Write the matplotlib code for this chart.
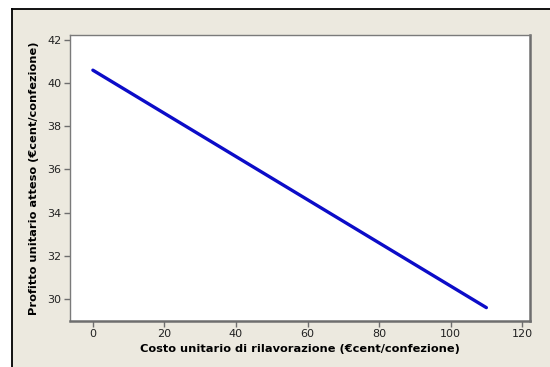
import matplotlib.pyplot as plt
from matplotlib.patches import Rectangle
from matplotlib.lines import Line2D

# Reprocessing cost (€cent per pack) and expected unit profit
costo = [0, 10, 20, 30, 40, 50, 60, 70, 80, 90, 100, 110]
profitto = [40.6, 39.6, 38.6, 37.6, 36.6, 35.6, 34.6, 33.6, 32.6, 31.6, 30.6, 29.6]

x_ticks = [0, 20, 40, 60, 80, 100, 120]
y_ticks = [30, 32, 34, 36, 38, 40, 42]

W, H = 550, 367
fig = plt.figure(figsize=(W / 100, H / 100), dpi=100, facecolor="white")

# beige panel with a black border on the left and top edges
x0, y0 = 11.5 / W, (H - 8.5) / H
fig.patches.append(Rectangle((x0, 0), 1 - x0, y0, transform=fig.transFigure,
                             facecolor="#ECE9DF", edgecolor="none", zorder=-2))
fig.lines.append(Line2D([x0, x0], [0, y0], transform=fig.transFigure,
                        color="black", linewidth=1.3, zorder=-1))
fig.lines.append(Line2D([x0, 1], [y0, y0], transform=fig.transFigure,
                        color="black", linewidth=1.3, zorder=-1))

ax = fig.add_axes([70 / W, (H - 321) / H, (530 - 70) / W, (321 - 35) / H])
ax.set_facecolor("white")

ax.plot(costo, profitto, color="#0c0cc8", linewidth=2.4, solid_capstyle="round")

ax.set_xlim(-6.4, 122.2)
ax.set_ylim(28.98, 42.23)
ax.set_xticks(x_ticks)
ax.set_yticks(y_ticks)

for side in ["left", "top"]:
    ax.spines[side].set_color("#7a7a7a")
    ax.spines[side].set_linewidth(1.0)
for side in ["right", "bottom"]:
    ax.spines[side].set_color("#6e6e6e")
    ax.spines[side].set_linewidth(1.8)

ax.tick_params(direction="out", length=4, width=1, color="#6e6e6e",
               labelsize=8, labelcolor="#222222", pad=2)

ax.set_xlabel("Costo unitario di rilavorazione (€cent/confezione)",
              fontsize=8.2, fontweight="bold", labelpad=3)
ax.set_ylabel("Profitto unitario atteso (€cent/confezione)",
              fontsize=8.2, fontweight="bold", labelpad=6)

fig.savefig("out.png", dpi=100, facecolor=fig.get_facecolor())
plt.close(fig)
